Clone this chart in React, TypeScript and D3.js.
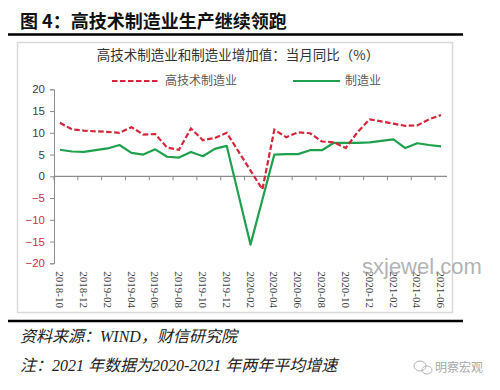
import React, { useEffect, useRef } from 'react';
import * as d3 from 'd3';

// monthly categories, Jan has no own value (Jan-Feb published together)
const months = [
  '2018-10', '2018-11', '2018-12',
  '2019-01', '2019-02', '2019-03', '2019-04', '2019-05', '2019-06',
  '2019-07', '2019-08', '2019-09', '2019-10', '2019-11', '2019-12',
  '2020-01', '2020-02', '2020-03', '2020-04', '2020-05', '2020-06',
  '2020-07', '2020-08', '2020-09', '2020-10', '2020-11', '2020-12',
  '2021-01', '2021-02', '2021-03', '2021-04', '2021-05', '2021-06',
];

// 高技术制造业 当月同比 %
const hiTech: (number | null)[] = [
  12.3, 10.8, 10.5,
  null, 10.2, 10.0, 11.3, 9.6, 9.7,
  6.6, 6.1, 11.0, 8.3, 8.8, 10.0,
  null, null, -3.0, 10.7, 9.0, 10.1,
  9.9, 8.0, 7.8, 6.5, 10.2, 13.1,
  null, 12.1, 11.6, 11.7, 13.1, 14.1,
];

// 制造业 当月同比 %
const manufacturing: (number | null)[] = [
  6.1, 5.7, 5.6,
  null, 6.4, 7.2, 5.4, 5.0, 6.2,
  4.5, 4.3, 5.6, 4.6, 6.3, 7.0,
  null, -15.7, null, 5.0, 5.1, 5.1,
  6.0, 6.0, 7.7, 7.7, 7.7, 7.8,
  null, 8.5, 6.5, 7.6, 7.2, 6.9,
];

const yTicks = [20, 15, 10, 5, 0, -5, -10, -15, -20];

const RED = '#d3263a';
const GREEN = '#1fa04d';
const CJK = '"Noto Sans CJK SC", "Noto Sans", sans-serif';
const SERIF_CJK = '"Liberation Serif", "Noto Sans CJK SC", serif';

function App() {
  const chartRef = useRef<SVGSVGElement>(null);

  useEffect(() => {
    const svg = d3.select(chartRef.current);
    svg.selectAll('*').remove();

    // heading
    svg.append('text')
      .attr('x', 20).attr('y', 27.5)
      .attr('font-family', CJK).attr('font-weight', 700)
      .attr('font-size', 18).attr('fill', '#111')
      .text('图 4：高技术制造业生产继续领跑');
    svg.append('line')
      .attr('x1', 8).attr('x2', 463).attr('y1', 34.5).attr('y2', 34.5)
      .attr('stroke', '#000').attr('stroke-width', 2.5);

    // chart frame
    svg.append('rect')
      .attr('x', 17.5).attr('y', 42.5).attr('width', 435).attr('height', 270)
      .attr('fill', '#fff').attr('stroke', '#d9d9d9').attr('stroke-width', 1.5);

    svg.append('text')
      .attr('x', 238).attr('y', 60)
      .attr('text-anchor', 'middle')
      .attr('font-family', CJK).attr('font-size', 13.5).attr('fill', '#333')
      .text('高技术制造业和制造业增加值：当月同比（%）');

    // legend
    const legend = svg.append('g').attr('font-family', CJK).attr('font-size', 12).attr('fill', '#595959');
    legend.append('line')
      .attr('x1', 112).attr('x2', 160).attr('y1', 81).attr('y2', 81)
      .attr('stroke', RED).attr('stroke-width', 2.2).attr('stroke-dasharray', '5.5,2.5');
    legend.append('text').attr('x', 165).attr('y', 85).text('高技术制造业');
    legend.append('line')
      .attr('x1', 293).attr('x2', 340).attr('y1', 81).attr('y2', 81)
      .attr('stroke', GREEN).attr('stroke-width', 2.2);
    legend.append('text').attr('x', 345).attr('y', 85).text('制造业');

    const x = d3.scaleBand<string>()
      .domain(months)
      .range([54, 447])
      .padding(0);
    const cx = (m: string) => (x(m) as number) + x.bandwidth() / 2;

    const y = d3.scaleLinear()
      .domain([-20, 20])
      .range([263.3, 89.3]);

    // y axis
    const yAxis = svg.append('g')
      .attr('transform', `translate(${x.range()[0]},0)`)
      .call(d3.axisLeft(y).tickValues(yTicks).tickSize(4).tickPadding(5));
    yAxis.select('.domain').attr('stroke', '#8c8c8c');
    yAxis.selectAll('.tick line').attr('stroke', '#8c8c8c');
    yAxis.selectAll<SVGTextElement, number>('.tick text')
      .attr('font-family', '"Liberation Sans", Arial, sans-serif')
      .attr('font-size', 11.5)
      .attr('fill', d => (d < 0 ? '#d2303f' : '#404040'));

    // x axis on zero line, ticks between categories every 2 months
    const xAxis = svg.append('g');
    xAxis.append('line')
      .attr('x1', x.range()[0]).attr('x2', x.range()[1])
      .attr('y1', y(0)).attr('y2', y(0))
      .attr('stroke', '#8c8c8c').attr('stroke-width', 1.2);
    xAxis.selectAll('.xtick')
      .data(months.filter((_, i) => i % 2 === 0))
      .enter()
      .append('line')
      .attr('class', 'xtick')
      .attr('x1', d => x(d) as number).attr('x2', d => x(d) as number)
      .attr('y1', y(0)).attr('y2', y(0) + 4)
      .attr('stroke', '#8c8c8c');

    // labels sit at the bottom of the plot
    svg.append('g')
      .selectAll('text')
      .data(months.filter((_, i) => i % 2 === 0))
      .enter()
      .append('text')
      .attr('transform', d => `translate(${cx(d)},${y(-20) + 8}) rotate(90)`)
      .attr('dy', '0.35em')
      .attr('font-family', '"Liberation Serif", serif')
      .attr('font-size', 11)
      .attr('fill', '#404040')
      .text(d => d);

    // lines: gaps (missing January) are bridged as in the source chart
    const line = d3.line<[string, number]>()
      .x(d => cx(d[0]))
      .y(d => y(d[1]));

    const pairs = (vals: (number | null)[]) =>
      months.map((m, i) => [m, vals[i]] as [string, number | null])
        .filter(d => d[1] !== null) as [string, number][];

    svg.append('path')
      .datum(pairs(manufacturing))
      .attr('d', line)
      .attr('fill', 'none')
      .attr('stroke', GREEN)
      .attr('stroke-width', 2.2)
      .attr('stroke-linejoin', 'round');

    svg.append('path')
      .datum(pairs(hiTech))
      .attr('d', line)
      .attr('fill', 'none')
      .attr('stroke', RED)
      .attr('stroke-width', 2.2)
      .attr('stroke-dasharray', '5.5,2.5');

    // watermark
    svg.append('text')
      .attr('x', 362).attr('y', 274)
      .attr('font-family', '"Liberation Sans", Arial, sans-serif')
      .attr('font-size', 22)
      .attr('fill', '#9a9a9a').attr('opacity', 0.75)
      .text('sxjewel.com');

    // footer
    svg.append('line')
      .attr('x1', 8).attr('x2', 463).attr('y1', 321).attr('y2', 321)
      .attr('stroke', '#000').attr('stroke-width', 2.5);
    svg.append('text')
      .attr('x', 20).attr('y', 342)
      .attr('font-family', SERIF_CJK).attr('font-style', 'italic')
      .attr('font-size', 16).attr('fill', '#222')
      .text('资料来源：WIND，财信研究院');
    svg.append('text')
      .attr('x', 20).attr('y', 371)
      .attr('font-family', SERIF_CJK).attr('font-style', 'italic')
      .attr('font-size', 16).attr('fill', '#222')
      .text('注：2021 年数据为2020-2021 年两年平均增速');

    const mark = svg.append('g').attr('fill', 'none').attr('stroke', '#b5b5b5').attr('stroke-width', 1);
    mark.append('ellipse').attr('cx', 420).attr('cy', 366).attr('rx', 6).attr('ry', 5);
    mark.append('ellipse').attr('cx', 427).attr('cy', 370).attr('rx', 5).attr('ry', 4);
    svg.append('text')
      .attr('x', 435).attr('y', 372)
      .attr('font-family', CJK).attr('font-size', 12)
      .attr('fill', '#a8a8a8')
      .text('明察宏观');
  }, []);

  return (
    <div style={{ position: 'absolute', left: 0, top: 0 }}>
      <svg ref={chartRef} width={500} height={390} style={{ display: 'block', background: '#fff' }}></svg>
    </div>
  );
}

export default App;
